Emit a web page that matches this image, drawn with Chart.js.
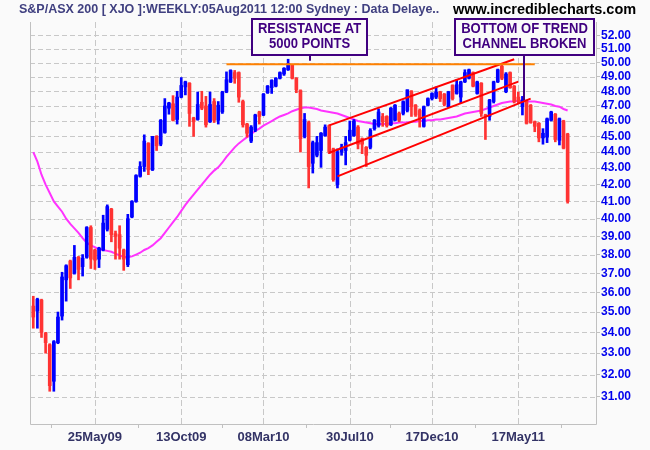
<!DOCTYPE html>
<html>
<head>
<meta charset="utf-8">
<script src="https://cdn.jsdelivr.net/npm/chart.js@4.4.0/dist/chart.umd.min.js"></script>
<style>
  html, body { margin: 0; padding: 0; background: #fafafa; }
  #wrap { width: 650px; height: 450px; }
</style>
</head>
<body>
<div id="wrap"><canvas id="chart" width="650" height="450"></canvas></div>
<script>
// ==== XJO weekly candles, values in hundreds of points ====
const opens = [35.3, 35.05, 35.6, 33.95, 33.4, 31.7, 33.5, 34.8, 36.65, 37.65,
  37.0, 37.85, 37.35, 37.85, 39.5, 38.25, 37.75, 38.25, 39.4, 40.55,
  39.15, 39.1, 38.25, 37.45, 40.1, 41.0, 42.5, 43.1, 44.55, 42.9,
  45.0, 44.5, 45.25, 46.85, 47.15, 46.1, 47.6, 48.3, 48.55, 46.2,
  46.1, 47.25, 47.0, 45.95, 47.3, 46.05, 46.6, 47.95, 48.65, 49.3,
  49.3, 47.3, 45.8, 44.7, 45.4, 46.6, 46.4, 47.9, 48.25, 48.35,
  48.9, 49.2, 49.5, 49.85, 48.9, 48.05, 45.0, 45.9, 43.3, 43.8,
  44.1, 45.05, 45.7, 44.2, 42.0, 44.0, 44.1, 44.75, 45.05, 45.6,
  44.85, 44.3, 44.3, 45.5, 45.7, 46.3, 46.3, 45.75, 46.05, 46.5,
  46.5, 46.7, 48.0, 47.05, 46.7, 45.65, 47.05, 47.5, 47.6, 47.95,
  47.8, 46.95, 48.4, 47.85, 47.6, 48.65, 48.9, 49.3, 47.85, 48.55,
  46.4, 46.3, 47.3, 48.65, 49.75, 47.97, 49.3, 48.35, 47.6, 46.95,
  47.3, 47.05, 45.95, 45.85, 44.9, 44.95, 46.05, 46.45, 44.75, 46.0,
  45.15];
const highs = [35.8, 35.7, 35.65, 34.0, 33.45, 33.6, 35.0, 37.05, 37.45, 37.7,
  38.5, 37.9, 38.0, 39.55, 39.6, 38.3, 38.4, 40.2, 40.8, 40.6,
  39.3, 39.6, 38.3, 40.25, 41.05, 42.6, 43.4, 45.1, 44.6, 45.0,
  45.05, 46.1, 47.5, 47.25, 47.7, 48.0, 48.95, 48.7, 48.6, 46.25,
  47.95, 48.0, 47.65, 47.95, 47.5, 47.3, 48.0, 49.35, 49.5, 49.45,
  49.35, 47.4, 45.85, 45.7, 46.45, 46.65, 47.85, 48.4, 48.8, 48.95,
  49.35, 49.65, 50.25, 49.9, 48.95, 48.1, 46.5, 46.0, 44.7, 45.0,
  45.25, 45.75, 45.75, 44.25, 44.2, 44.5, 45.0, 46.0, 46.1, 45.7,
  44.9, 44.35, 45.5, 46.1, 46.8, 46.5, 46.35, 46.9, 47.1, 46.6,
  47.35, 48.1, 48.05, 47.1, 46.8, 47.0, 47.55, 47.9, 48.3, 48.0,
  47.85, 48.0, 48.45, 48.8, 48.7, 49.5, 49.55, 49.35, 48.7, 48.6,
  46.45, 47.45, 48.7, 49.55, 49.95, 49.3, 49.35, 48.4, 47.95, 47.65,
  47.4, 47.1, 46.0, 45.9, 45.5, 46.2, 46.65, 46.5, 46.2, 46.05,
  45.2];
const lows = [34.2, 34.2, 33.75, 33.0, 31.25, 31.25, 33.45, 34.6, 35.55, 36.2,
  36.95, 36.65, 36.85, 37.8, 37.25, 37.2, 37.3, 38.2, 39.3, 38.7,
  37.75, 37.75, 37.15, 37.35, 40.05, 40.95, 42.45, 42.8, 42.6, 42.85,
  44.1, 44.4, 45.2, 46.45, 46.0, 45.8, 47.55, 47.75, 45.65, 45.0,
  46.05, 46.75, 45.6, 45.9, 45.9, 45.8, 46.5, 47.9, 48.6, 48.55,
  47.25, 45.6, 44.95, 44.6, 45.3, 45.8, 46.35, 47.85, 47.85, 48.3,
  48.85, 49.1, 49.45, 48.85, 47.9, 44.0, 44.9, 41.8, 42.7, 43.7,
  43.05, 45.0, 43.9, 42.2, 41.8, 43.8, 43.2, 44.7, 45.0, 44.2,
  43.9, 43.1, 44.2, 45.4, 45.6, 45.65, 45.6, 45.7, 46.0, 45.95,
  46.4, 46.6, 46.3, 46.3, 45.6, 45.6, 47.0, 47.4, 47.5, 47.3,
  47.0, 46.9, 47.4, 47.8, 47.2, 48.6, 48.85, 48.3, 47.8, 46.3,
  44.8, 46.05, 47.2, 48.6, 48.8, 47.9, 48.2, 47.2, 47.2, 46.4,
  45.8, 45.85, 45.3, 44.65, 44.5, 44.6, 46.0, 44.65, 44.45, 44.2,
  40.9];
const closes = [34.75, 35.65, 34.0, 33.5, 31.5, 33.55, 34.75, 36.8, 37.4, 36.75,
  37.85, 37.2, 37.8, 39.5, 37.75, 37.7, 38.35, 39.75, 40.7, 39.1,
  39.0, 38.35, 37.75, 40.0, 41.0, 42.55, 43.1, 44.7, 42.9, 45.0,
  44.4, 46.05, 47.0, 47.2, 46.05, 47.6, 48.4, 48.65, 46.5, 45.95,
  47.1, 46.85, 45.75, 47.1, 46.05, 47.05, 47.95, 48.8, 49.45, 48.9,
  47.6, 45.75, 45.2, 45.6, 46.4, 46.3, 47.8, 48.35, 48.75, 48.9,
  49.3, 49.6, 49.95, 48.9, 48.1, 44.85, 46.1, 43.1, 44.6, 44.6,
  45.2, 45.6, 44.0, 42.3, 44.0, 44.3, 44.6, 45.4, 46.0, 44.5,
  44.5, 43.8, 45.4, 46.05, 46.6, 45.95, 45.7, 46.85, 47.05, 46.05,
  47.3, 48.1, 46.95, 46.4, 46.2, 46.95, 47.5, 47.85, 47.95, 47.5,
  47.1, 47.95, 47.5, 48.45, 48.65, 49.3, 49.5, 48.35, 48.65, 46.5,
  46.3, 47.4, 48.65, 49.5, 48.9, 49.2, 48.25, 47.3, 47.3, 47.4,
  45.85, 45.9, 45.65, 44.9, 45.2, 46.15, 46.6, 44.8, 46.15, 44.25,
  41.0];
// moving average (magenta)
const ma = [44.0, 43.4, 42.6, 42.0, 41.5, 41.0, 40.7, 40.4, 40.0, 39.7,
  39.45, 39.2, 38.9, 38.65, 38.5, 38.4, 38.3, 38.25, 38.2, 38.15,
  38.05, 37.95, 37.88, 37.85, 37.9, 38.0, 38.1, 38.25, 38.35, 38.5,
  38.7, 38.9, 39.2, 39.5, 39.8, 40.1, 40.45, 40.8, 41.1, 41.4,
  41.7, 42.0, 42.3, 42.6, 42.85, 43.05, 43.35, 43.7, 44.0, 44.3,
  44.55, 44.75, 44.95, 45.15, 45.35, 45.5, 45.7, 45.85, 46.0, 46.15,
  46.3, 46.4, 46.5, 46.65, 46.75, 46.85, 46.9, 46.9, 46.85, 46.8,
  46.7, 46.65, 46.6, 46.55, 46.5, 46.4, 46.3, 46.2, 46.1, 46.0,
  45.95, 45.9, 45.85, 45.8, 45.8, 45.8, 45.8, 45.85, 45.85, 45.9,
  45.9, 45.9, 45.95, 45.95, 46.0, 46.0, 46.05, 46.05, 46.1, 46.1,
  46.15, 46.2, 46.25, 46.3, 46.4, 46.5, 46.55, 46.6, 46.65, 46.7,
  46.8, 46.9, 47.0, 47.1, 47.2, 47.25, 47.3, 47.3, 47.35, 47.35,
  47.3, 47.3, 47.3, 47.25, 47.2, 47.15, 47.1, 47.0, 46.95, 46.8,
  46.7];

const weeks = closes.map((_, i) => i);

// ==== Axis ticks ====
const yTicks = [31, 32, 33, 34, 35, 36, 37, 38, 39, 40, 41, 42, 43, 44, 45, 46, 47, 48, 49, 50, 51, 52];
const tickWeeks = [15, 36, 56, 77, 97, 118];
const tickLabels = ["25May09", "13Oct09", "08Mar10", "30Jul10", "17Dec10", "17May11"];

// ==== Drawn trend lines [week, value] ====
const resistance = [[47, 49.9], [122, 49.9]];
const channelTop = [[72, 45.71], [117, 50.25]];
const channelMid = [[72, 43.96], [118, 48.67]];
const channelLow = [[74, 42.5], [121, 47.5]];

// ==== Notes ====
const notes = [
  { lines: ["RESISTANCE AT", "5000 POINTS"], week: 67.2, value: 50.15 },
  { lines: ["BOTTOM OF TREND", "CHANNEL BROKEN"], week: 119.5, value: 47.4 }
];

const titleText = "S&P/ASX 200 [ XJO ]:WEEKLY:05Aug2011 12:00 Sydney : Data Delaye..";
const siteText = "www.incrediblecharts.com";

const candleColors = closes.map((c, i) => c >= opens[i] ? "#0000ff" : "#ff3333");
const toPts = arr => arr.map(p => ({ x: p[0], y: p[1] }));

function trendLine(pts, color) {
  return {
    type: "line",
    data: toPts(pts),
    borderColor: color,
    borderWidth: 2,
    pointRadius: 0,
    order: 1
  };
}

// ==== Extra drawing: background, grid, frame, notes, header ====
const decor = {
  id: "decor",
  beforeDraw(chart) {
    const { ctx } = chart;
    ctx.save();
    ctx.fillStyle = "#fafafa";
    ctx.fillRect(0, 0, chart.width, chart.height);
    ctx.restore();
  },
  beforeDatasetsDraw(chart) {
    const { ctx, chartArea: a, scales } = chart;
    ctx.save();
    ctx.strokeStyle = "#c8c8c8";
    ctx.lineWidth = 1;
    ctx.setLineDash([5, 3]);
    yTicks.forEach(v => {
      const y = Math.round(scales.y.getPixelForValue(v)) + 0.5;
      ctx.beginPath();
      ctx.moveTo(a.left, y);
      ctx.lineTo(a.right, y);
      ctx.stroke();
    });
    ctx.setLineDash([6, 3]);
    tickWeeks.forEach(w => {
      const x = Math.round(scales.x.getPixelForValue(w)) + 0.5;
      ctx.beginPath();
      ctx.moveTo(x, a.top);
      ctx.lineTo(x, a.bottom);
      ctx.stroke();
    });
    ctx.setLineDash([]);
    ctx.strokeStyle = "#c0c0c0";
    ctx.beginPath();
    ctx.moveTo(a.left + 0.5, a.top);
    ctx.lineTo(a.left + 0.5, a.bottom + 0.5);
    ctx.lineTo(a.right + 0.5, a.bottom + 0.5);
    ctx.lineTo(a.right + 0.5, a.top);
    ctx.stroke();
    ctx.restore();
  },
  afterDraw(chart) {
    const { ctx, scales } = chart;
    ctx.save();
    // header
    ctx.textBaseline = "middle";
    ctx.textAlign = "left";
    ctx.font = "bold 12.5px 'Liberation Sans', Arial, sans-serif";
    ctx.fillStyle = "#404080";
    ctx.fillText(titleText, 19, 10, 430);
    ctx.font = "bold 14.5px 'Liberation Sans', Arial, sans-serif";
    ctx.fillStyle = "#000000";
    ctx.fillText(siteText, 453, 10, 190);

    // notes with pointer; narrow lettering like the original
    ctx.font = "bold 15px 'Liberation Sans', Arial, sans-serif";
    ctx.textAlign = "center";
    const squeeze = 0.87;
    notes.forEach(n => {
      const px = scales.x.getPixelForValue(n.week);
      const py = scales.y.getPixelForValue(n.value);
      const widths = n.lines.map(t => ctx.measureText(t).width * squeeze);
      const w = Math.round(Math.max(...widths) + 12);
      const left = Math.round(px - w / 2);
      const top = 19, h = 36;
      ctx.strokeStyle = "#400080";
      ctx.lineWidth = 2;
      ctx.fillStyle = "#fafafa";
      ctx.fillRect(left, top, w, h);
      ctx.strokeRect(left, top, w, h);
      ctx.beginPath();
      ctx.moveTo(Math.round(px), top + h);
      ctx.lineTo(Math.round(px), py);
      ctx.stroke();
      ctx.fillStyle = "#400080";
      ctx.fillText(n.lines[0], left + w / 2, top + 10, widths[0]);
      ctx.fillText(n.lines[1], left + w / 2, top + 25, widths[1]);
    });
    ctx.restore();
  }
};

const ctx = document.getElementById("chart").getContext("2d");
new Chart(ctx, {
  type: "bar",
  data: {
    datasets: [
      {
        type: "line",
        data: weeks.map(i => ({ x: i, y: ma[i] })),
        borderColor: "#ff33ff",
        borderWidth: 2,
        pointRadius: 0,
        order: 4
      },
      {
        type: "bar",
        data: weeks.map(i => ({ x: i, y: [lows[i], highs[i]] })),
        backgroundColor: candleColors,
        barThickness: 2,
        grouped: false,
        order: 3
      },
      {
        type: "bar",
        data: weeks.map(i => ({ x: i, y: [opens[i], closes[i]] })),
        backgroundColor: candleColors,
        barThickness: 3,
        minBarLength: 1,
        grouped: false,
        order: 2
      },
      trendLine(resistance, "#ff8000"),
      trendLine(channelTop, "#ff0000"),
      trendLine(channelMid, "#ff0000"),
      trendLine(channelLow, "#ff0000")
    ]
  },
  options: {
    responsive: false,
    animation: false,
    events: [],
    layout: { padding: { left: 30, top: 22, right: 0, bottom: 0 } },
    plugins: { legend: { display: false }, tooltip: { enabled: false } },
    scales: {
      x: {
        type: "linear",
        offset: false,
        min: -0.8,
        max: 136.9,
        afterBuildTicks: s => { s.ticks = tickWeeks.map(v => ({ value: v })); },
        afterFit: s => { s.height = 26; },
        grid: { drawOnChartArea: false, drawTicks: true, tickLength: 4, color: "#c0c0c0" },
        border: { display: false },
        ticks: {
          autoSkip: false,
          maxRotation: 0,
          padding: 2,
          color: "#333366",
          font: { family: "'Liberation Sans', Arial, sans-serif", size: 13, weight: "bold" },
          callback: (v, i) => tickLabels[i]
        }
      },
      y: {
        type: "logarithmic",
        position: "right",
        min: 29.82,
        max: 53.0,
        afterBuildTicks: s => { s.ticks = yTicks.map(v => ({ value: v })); },
        afterFit: s => { s.width = 54; },
        grid: { drawOnChartArea: false, drawTicks: true, tickLength: 4, color: "#c0c0c0" },
        border: { display: false },
        ticks: {
          autoSkip: false,
          padding: 1,
          color: "#0000ee",
          font: { family: "'Liberation Sans', Arial, sans-serif", size: 12, weight: "bold" },
          callback: v => Number(v).toFixed(2)
        }
      }
    }
  },
  plugins: [decor]
});
</script>
</body>
</html>
